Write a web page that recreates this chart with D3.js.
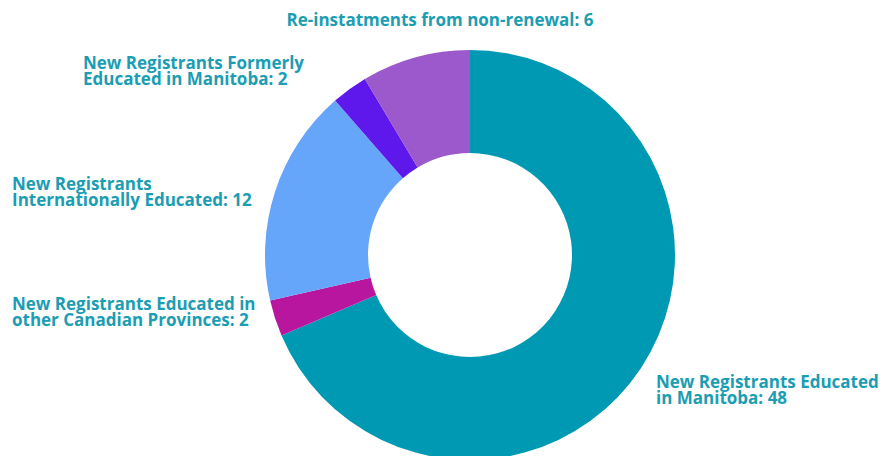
<!DOCTYPE html>
<html>
<head>
<meta charset="utf-8">
<script src="https://cdn.jsdelivr.net/npm/d3@7"></script>
<style>
  html, body { margin: 0; padding: 0; background: #ffffff; }
  svg { display: block; }
  .lbl { font-family: "Open Sans", sans-serif; font-weight: 700; font-size: 17px; fill: #1b9db3; }
</style>
</head>
<body>
<svg id="chart" width="884" height="456"></svg>
<script>
// Registration sources, clockwise from 12 o'clock
const categories = [
  "New Registrants Educated in Manitoba",
  "New Registrants Educated in other Canadian Provinces",
  "New Registrants Internationally Educated",
  "New Registrants Formerly Educated in Manitoba",
  "Re-instatments from non-renewal"
];
const values = [48, 2, 12, 2, 6];
const colors = ["#0099b3", "#b8169f", "#65a6fa", "#5f18ec", "#9b59cc"];

// Label text, split into lines
const labelLines = [
  ["New Registrants Educated", "in Manitoba: 48"],
  ["New Registrants Educated in", "other Canadian Provinces: 2"],
  ["New Registrants", "Internationally Educated: 12"],
  ["New Registrants Formerly", "Educated in Manitoba: 2"],
  ["Re-instatments from non-renewal: 6"]
];

const width = 884, height = 456;
const cx = 470, cy = 255;
const outerR = 205, innerR = 102;

const svg = d3.select("#chart");
const g = svg.append("g").attr("transform", `translate(${cx},${cy})`);

const pie = d3.pie().sort(null).value(d => d)(values);
const arc = d3.arc().innerRadius(innerR).outerRadius(outerR);

g.selectAll("path.slice")
  .data(pie)
  .join("path")
  .attr("class", "slice")
  .attr("d", arc)
  .attr("fill", (d, i) => colors[i]);

// Label anchors (first-line baseline), placed around the ring
const labelPos = [
  { x: 656, y: 388, anchor: "start" },
  { x: 12, y: 310, anchor: "start" },
  { x: 12, y: 190, anchor: "start" },
  { x: 83, y: 69, anchor: "start" },
  { x: 440, y: 26, anchor: "middle" }
];
const lineH = 16;

const labels = svg.selectAll("text.lbl")
  .data(labelLines)
  .join("text")
  .attr("class", "lbl")
  .attr("x", (d, i) => labelPos[i].x)
  .attr("y", (d, i) => labelPos[i].y)
  .attr("text-anchor", (d, i) => labelPos[i].anchor);

labels.selectAll("tspan")
  .data((d, i) => d.map(t => ({ t, i })))
  .join("tspan")
  .attr("x", d => labelPos[d.i].x)
  .attr("dy", (d, j) => j === 0 ? 0 : lineH)
  .text(d => d.t);
</script>
</body>
</html>
